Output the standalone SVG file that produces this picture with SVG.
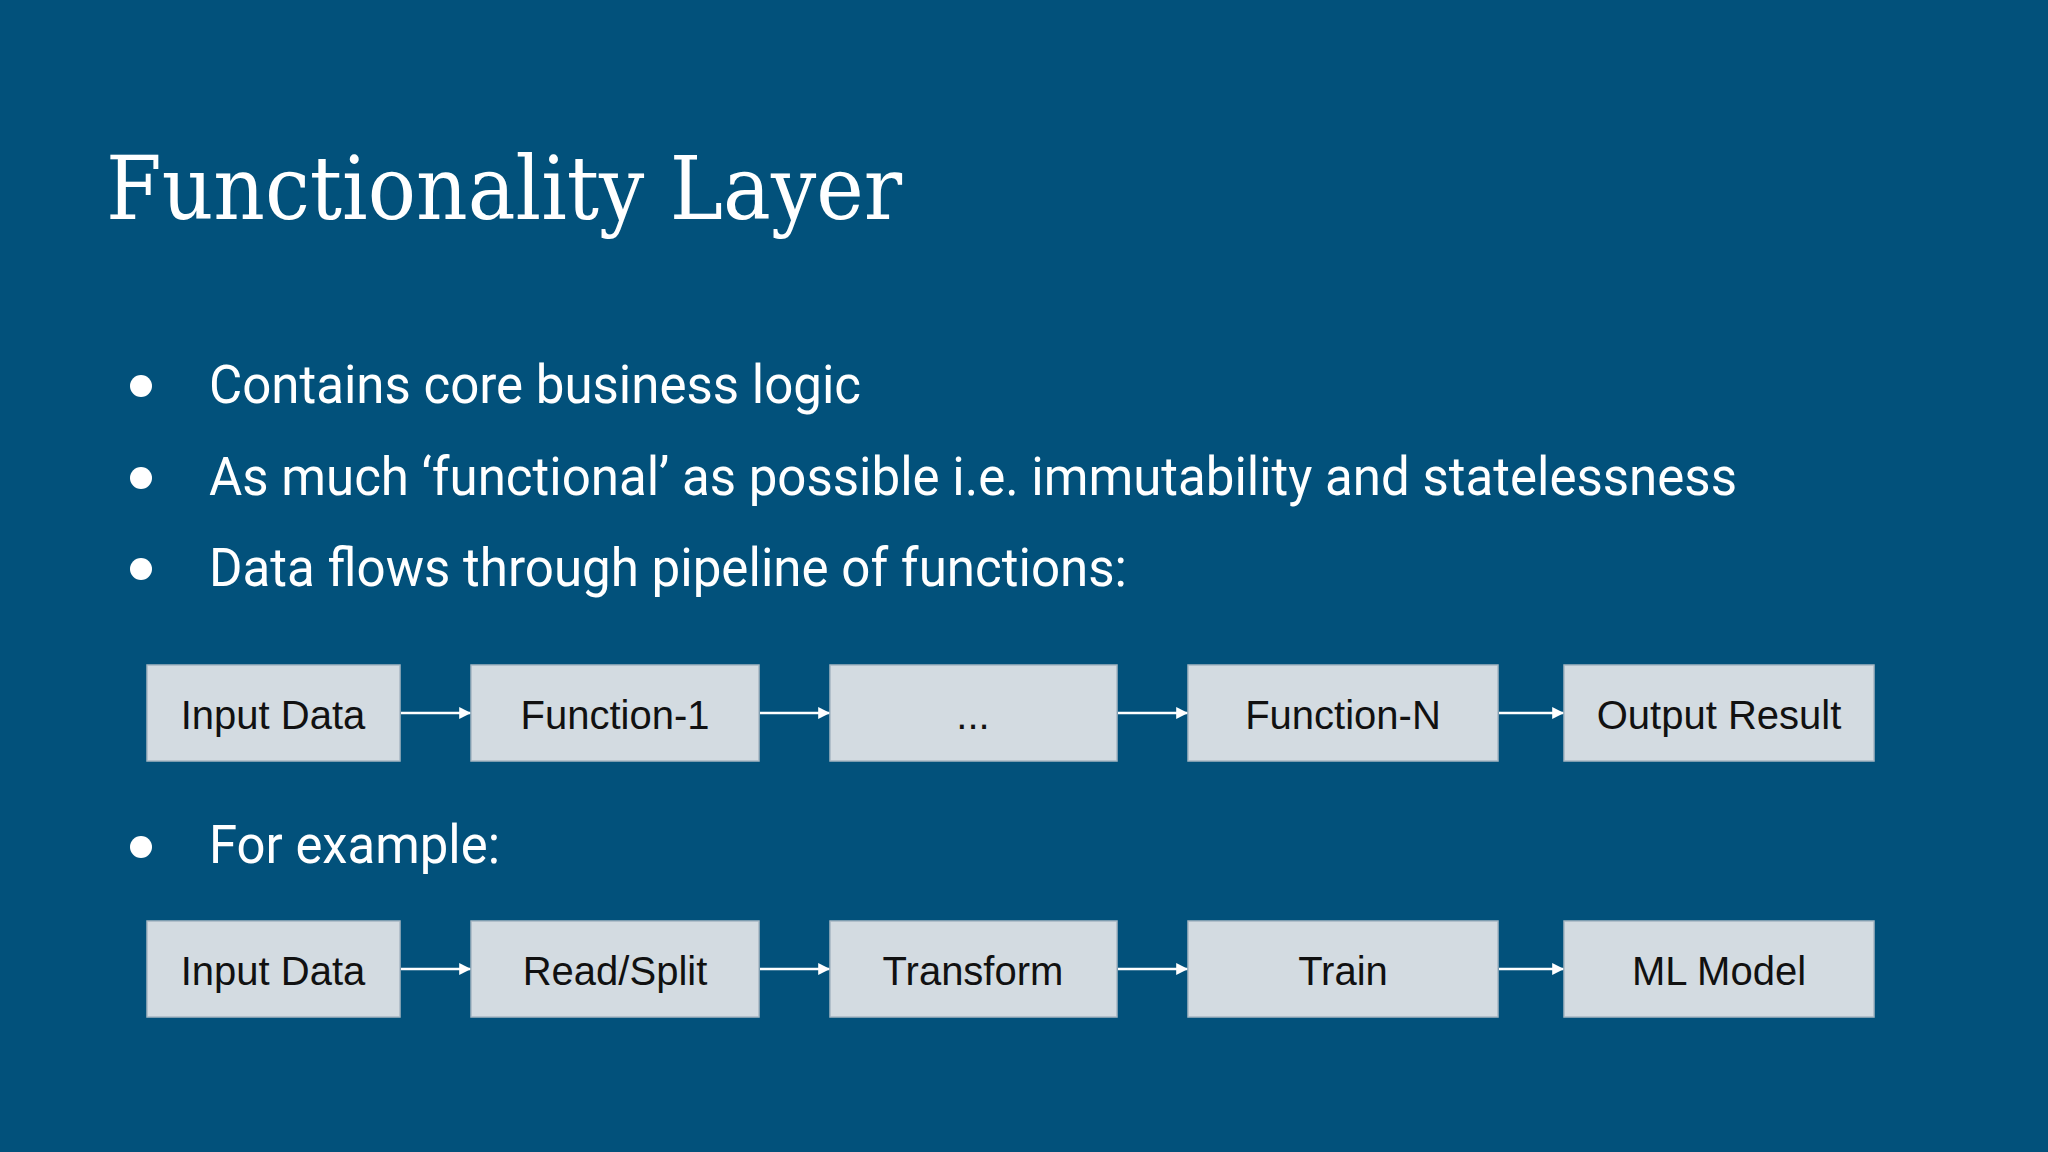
<svg xmlns="http://www.w3.org/2000/svg" width="2048" height="1152" viewBox="0 0 2048 1152">
<defs>
<style>
.title{font-family:"DejaVu Serif","Liberation Serif",serif;font-size:88px;fill:#ffffff}
.bul{font-family:Roboto,"Liberation Sans",sans-serif;font-size:53px;fill:#ffffff}
.box{fill:#d3dbe1;stroke:#a7b6c2;stroke-width:1.5}
.lbl{font-family:"Liberation Sans",Arial,sans-serif;font-size:40px;fill:#111111;text-anchor:middle}
.arr{stroke:#ffffff;stroke-width:2.5;fill:none;marker-end:url(#ah)}
</style>
<marker id="ah" viewBox="0 0 10 10" refX="9" refY="5" markerWidth="4.8" markerHeight="4.8" orient="auto" markerUnits="strokeWidth">
<path d="M0,0 L10,5 L0,10 Z" fill="#ffffff"/>
</marker>
</defs>
<rect width="2048" height="1152" fill="#02517b"/>
<text class="title" x="106" y="219" textLength="796" lengthAdjust="spacingAndGlyphs">Functionality Layer</text>
<g id="bullets">
<circle cx="141" cy="386" r="11" fill="#fff"/>
<text class="bul" x="209" y="403" textLength="652" lengthAdjust="spacingAndGlyphs">Contains core business logic</text>
<circle cx="141" cy="478" r="11" fill="#fff"/>
<text class="bul" x="209" y="495" textLength="1528" lengthAdjust="spacingAndGlyphs">As much ‘functional’ as possible i.e. immutability and statelessness</text>
<circle cx="141" cy="569" r="11" fill="#fff"/>
<text class="bul" x="209" y="586" textLength="918" lengthAdjust="spacingAndGlyphs">Data flows through pipeline of functions:</text>
<circle cx="141" cy="847" r="11" fill="#fff"/>
<text class="bul" x="209" y="863" textLength="291" lengthAdjust="spacingAndGlyphs">For example:</text>
</g>
<g id="n1"><rect class="box" x="147" y="665" width="253" height="96"/><text class="lbl" x="273" y="729">Input Data</text></g>
<g id="n2"><rect class="box" x="471" y="665" width="288" height="96"/><text class="lbl" x="615" y="729">Function-1</text></g>
<g id="n3"><rect class="box" x="830" y="665" width="287" height="96"/><text class="lbl" x="973" y="729">...</text></g>
<g id="n4"><rect class="box" x="1188" y="665" width="310" height="96"/><text class="lbl" x="1343" y="729">Function-N</text></g>
<g id="n5"><rect class="box" x="1564" y="665" width="310" height="96"/><text class="lbl" x="1719" y="729">Output Result</text></g>
<g id="m1"><rect class="box" x="147" y="921" width="253" height="96"/><text class="lbl" x="273" y="985">Input Data</text></g>
<g id="m2"><rect class="box" x="471" y="921" width="288" height="96"/><text class="lbl" x="615" y="985">Read/Split</text></g>
<g id="m3"><rect class="box" x="830" y="921" width="287" height="96"/><text class="lbl" x="973" y="985">Transform</text></g>
<g id="m4"><rect class="box" x="1188" y="921" width="310" height="96"/><text class="lbl" x="1343" y="985">Train</text></g>
<g id="m5"><rect class="box" x="1564" y="921" width="310" height="96"/><text class="lbl" x="1719" y="985">ML Model</text></g>
<g id="connectors">
<line class="arr" x1="401" y1="713" x2="470" y2="713"/>
<line class="arr" x1="760" y1="713" x2="829" y2="713"/>
<line class="arr" x1="1118" y1="713" x2="1187" y2="713"/>
<line class="arr" x1="1499" y1="713" x2="1563" y2="713"/>
<line class="arr" x1="401" y1="969" x2="470" y2="969"/>
<line class="arr" x1="760" y1="969" x2="829" y2="969"/>
<line class="arr" x1="1118" y1="969" x2="1187" y2="969"/>
<line class="arr" x1="1499" y1="969" x2="1563" y2="969"/>
</g>
</svg>
